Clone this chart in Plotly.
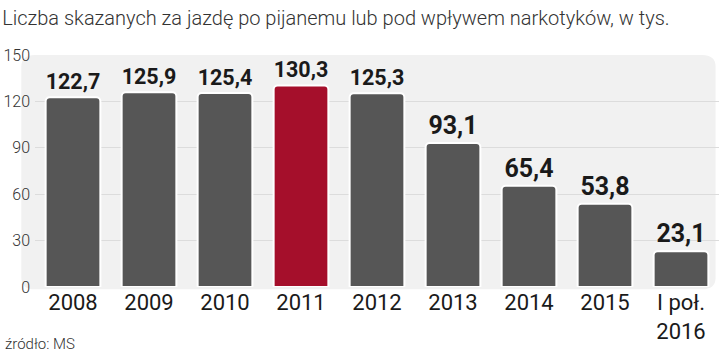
import plotly.graph_objects as go

categories = ["2008", "2009", "2010", "2011", "2012", "2013", "2014", "2015", "I poł.<br>2016"]
values = [122.7, 125.9, 125.4, 130.3, 125.3, 93.1, 65.4, 53.8, 23.1]
labels = ["122,7", "125,9", "125,4", "130,3", "125,3", "93,1", "65,4", "53,8", "23,1"]
highlight = "2011"
y_ticks = [0, 30, 60, 90, 120, 150]

colors = ["#a50f2b" if c == highlight else "#565656" for c in categories]

narrow = "Liberation Sans Narrow, Roboto, Arial Narrow, sans-serif"

fig = go.Figure()
fig.add_trace(go.Bar(
    x=categories, y=values,
    marker=dict(color=colors, line=dict(color="#ffffff", width=2), cornerradius=4),
    width=0.72,
    text=labels, textposition="outside",
    textfont=dict(family=narrow, size=25, color="#1a1a1a", weight="bold"),
    cliponaxis=False,
))

# rounded background panel
x0, x1, y0, y1, r = -0.02, 0.995, -0.01, 1.0, 0.02
fig.add_shape(type="path", xref="paper", yref="paper", layer="below",
              path=(f"M {x0+r} {y0} L {x1-r} {y0} Q {x1} {y0} {x1} {y0+0.05} "
                    f"L {x1} {y1-0.05} Q {x1} {y1} {x1-r} {y1} L {x0+r} {y1} "
                    f"Q {x0} {y1} {x0} {y1-0.05} L {x0} {y0+0.05} Q {x0} {y0} {x0+r} {y0} Z"),
              fillcolor="#f1f1f1", line=dict(width=0))

fig.update_layout(
    width=720, height=353,
    margin=dict(l=35, r=1, t=55, b=66),
    paper_bgcolor="#ffffff", plot_bgcolor="rgba(0,0,0,0)",
    showlegend=False,
    bargap=0.3,
    title=dict(text="Liczba skazanych za jazdę po pijanemu lub pod wpływem narkotyków, w tys.",
               x=0.003, xanchor="left", y=0.95, yanchor="middle",
               font=dict(family=narrow, size=20, color="#333333", weight=300)),
    annotations=[dict(text="źródło: MS", xref="paper", yref="paper", x=-0.047, y=-0.2,
                      xanchor="left", yanchor="top", showarrow=False,
                      font=dict(family=narrow, size=15, color="#333333", weight=300))],
)
fig.update_xaxes(tickfont=dict(family=narrow, size=22, color="#1a1a1a"),
                 showline=False, ticks="", showgrid=False)
fig.update_yaxes(range=[0, 150], tickvals=y_ticks, ticks="",
                 tickfont=dict(family=narrow, size=16, color="#333333", weight=300),
                 showgrid=True, gridcolor="#dcdcdc", gridwidth=1, zeroline=False,
                 ticklabelstandoff=4)

fig.write_html("out.html")
